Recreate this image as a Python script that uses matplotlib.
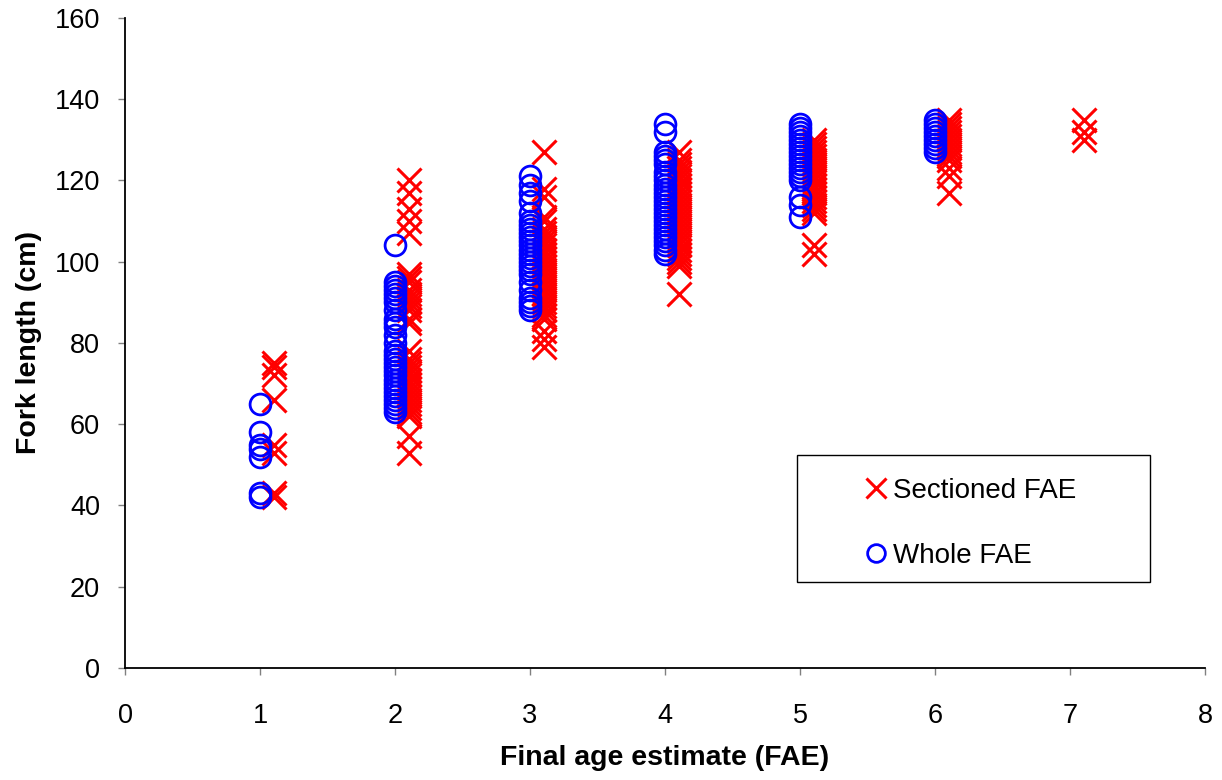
import matplotlib as mpl
mpl.use('Agg')
from matplotlib import pyplot as plt
from matplotlib.patches import Rectangle
import numpy as np

mpl.rc('font', family=['Liberation Sans', 'DejaVu Sans'])

# fork length (cm) by final age estimate
whole_1 = [65, 58, 55, 54, 52, 43, 42]
sect_1 = [75, 74, 72, 66, 55, 53, 43, 42]

whole_2 = [104, 95, 94, 93, 92, 91, 90, 88, 86, 85, 84, 82, 80, 78, 77, 76, 75,
           74, 73, 72, 71, 70, 69, 68, 67, 66, 65, 64, 63]
sect_2 = [120, 117, 113, 110, 107, 97, 96, 95, 93, 92, 91, 90, 89, 88, 86, 85,
          78, 76, 75, 74, 73, 72, 71, 70, 69, 68, 67, 66, 65, 64, 63, 62, 57, 53]

whole_3 = [121, 119, 117, 115, 112, 110, 109, 108, 107, 106, 105, 104, 103, 102,
           101, 100, 99, 98, 97, 95, 93, 91, 90, 89, 88]
sect_3 = [127, 118, 116, 111, 110, 108, 107, 106, 105, 104, 103, 102, 101, 100,
          99, 98, 97, 96, 95, 94, 93, 92, 91, 90, 89, 88, 87, 86, 83, 81, 79]

whole_4 = [134, 132, 127, 126, 125, 124, 122, 121, 120, 119, 118, 117, 116, 115,
           114, 113, 112, 111, 110, 109, 108, 107, 106, 105, 104, 103, 102]
sect_4 = [127, 125, 124, 123, 122, 121, 120, 119, 118, 117, 116, 115, 114, 113,
          112, 111, 110, 109, 108, 107, 106, 105, 104, 103, 102, 101, 100, 99, 92]

whole_5 = [134, 133, 132, 131, 130, 129, 128, 127, 126, 125, 124, 123, 122, 121,
           120, 116, 114, 111]
sect_5 = [130, 129, 128, 127, 126, 125, 124, 123, 122, 121, 120, 119, 118, 117,
          116, 115, 114, 113, 112, 104, 102]

whole_6 = [135, 134, 133, 132, 131, 130, 129, 128, 127]
sect_6 = [135, 134, 133, 132, 131, 130, 129, 128, 127, 126, 125, 123, 121, 117]

sect_7 = [135, 132, 130]

whole = {1: whole_1, 2: whole_2, 3: whole_3, 4: whole_4, 5: whole_5, 6: whole_6}
sectioned = {1: sect_1, 2: sect_2, 3: sect_3, 4: sect_4, 5: sect_5, 6: sect_6, 7: sect_7}

# sectioned points are nudged right of the integer age
offset = 0.1

fig = plt.figure(figsize=(12.22, 7.80), dpi=100)
ax = fig.add_axes([0.1023, 0.1436, 0.8838, 0.8334])

sx = np.concatenate([np.full(len(v), k + offset) for k, v in sectioned.items()])
sy = np.concatenate([v for v in sectioned.values()])
wx = np.concatenate([np.full(len(v), k) for k, v in whole.items()])
wy = np.concatenate([v for v in whole.values()])

ax.plot(sx, sy, linestyle='', marker='x', ms=17, mew=2.2, color='#ff0000',
        label='Sectioned FAE', clip_on=False)
ax.plot(wx, wy, linestyle='', marker='o', ms=15, mew=2.0, mfc='none',
        mec='#0000ff', label='Whole FAE', clip_on=False)

ax.set_xlim(0, 8)
ax.set_ylim(0, 160)
ax.set_xticks(range(0, 9))
ax.set_yticks(range(0, 161, 20))
ax.tick_params(labelsize=19.5, length=5, width=1, direction='out', color='#808080')
ax.tick_params(axis='x', pad=20)
ax.tick_params(axis='y', pad=13)

for s in ['top', 'right']:
    ax.spines[s].set_visible(False)
for s in ['left', 'bottom']:
    ax.spines[s].set_linewidth(1.3)

ax.set_xlabel('Final age estimate (FAE)', fontsize=20.5, fontweight='bold', labelpad=12)
ax.set_ylabel('Fork length (cm)', fontsize=20.5, fontweight='bold', labelpad=9)

# legend box drawn separately, entries centred inside it
bx0, by0, bw, bh = 0.622, 0.132, 0.327, 0.195
ax.add_patch(Rectangle((bx0, by0), bw, bh, transform=ax.transAxes, fill=True,
                       facecolor='white', edgecolor='black', lw=1, zorder=4))
leg = ax.legend(loc='center', bbox_to_anchor=(bx0 + bw / 2 - 0.004, by0 + bh / 2 - 0.007),
                fontsize=20, frameon=False, handlelength=1.0, handletextpad=0.1,
                labelspacing=1.4, borderpad=0, markerscale=0.85)
leg.set_zorder(5)

fig.savefig('out.png', dpi=100, facecolor='white')
